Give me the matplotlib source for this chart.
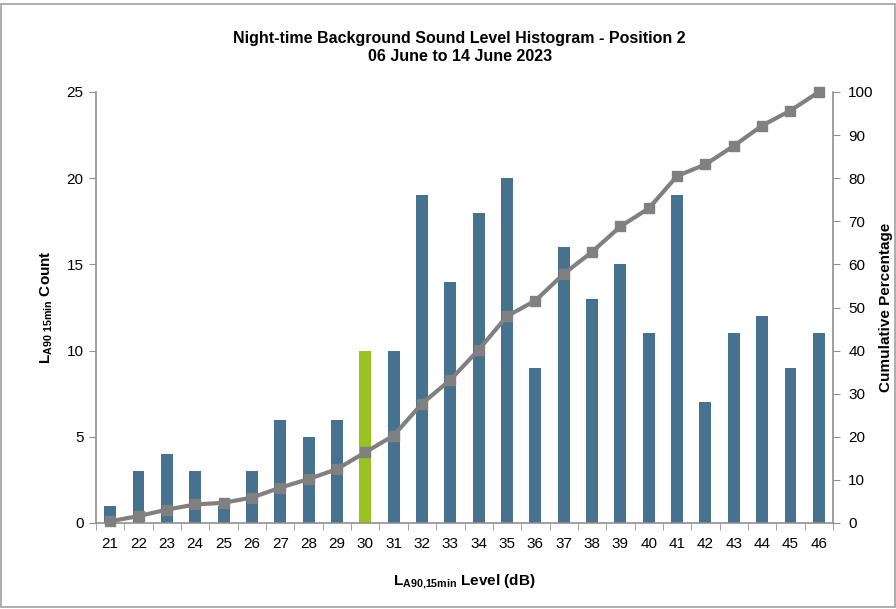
import matplotlib.pyplot as plt
from matplotlib.patches import Rectangle
import numpy as np

# Dane
levels = [21, 22, 23, 24, 25, 26, 27, 28, 29, 30, 31, 32, 33,
          34, 35, 36, 37, 38, 39, 40, 41, 42, 43, 44, 45, 46]
counts = [1, 3, 4, 3, 1, 3, 6, 5, 6, 10, 10, 19, 14,
          18, 20, 9, 16, 13, 15, 11, 19, 7, 11, 12, 9, 11]
cumulative = [0.4, 1.6, 3.1, 4.3, 4.7, 5.9, 8.2, 10.2, 12.5, 16.4, 20.3, 27.7, 33.2,
              40.2, 48.0, 51.6, 57.8, 62.9, 68.8, 73.0, 80.5, 83.2, 87.5, 92.2, 95.7, 100.0]
highlight = 30

plt.rcParams['font.family'] = ['Liberation Sans', 'DejaVu Sans']
plt.rcParams['mathtext.fontset'] = 'custom'
plt.rcParams['mathtext.rm'] = 'Liberation Sans'
plt.rcParams['mathtext.bf'] = 'Liberation Sans:bold'

fig = plt.figure(figsize=(8.96, 6.09), dpi=100)
ax = fig.add_axes([96 / 896, 1 - 523 / 609, (833 - 96) / 896, (523 - 92) / 609])
ax2 = ax.twinx()

x = np.arange(len(levels))
colors = ['#9BC31F' if l == highlight else '#46718F' for l in levels]
ax.bar(x, counts, width=0.42, color=colors, zorder=2)
ax2.plot(x, cumulative, color='#808080', lw=3, marker='s', ms=6.5, zorder=3, clip_on=False)

ax.set_xlim(-0.5, len(levels) - 0.5)
ax.set_ylim(0, 25)
ax.set_yticks(range(0, 26, 5))
ax2.set_ylim(0, 100)
ax2.set_yticks(range(0, 101, 10))

ax.set_xticks(x)
ax.set_xticklabels([str(l) for l in levels])
ax.set_xticks(np.arange(-0.5, len(levels), 1), minor=True)
ax.tick_params(axis='x', which='major', length=0, pad=10, labelsize=11)
ax.tick_params(axis='x', which='minor', length=5, color='#909090', direction='out')
ax.tick_params(axis='y', length=5, color='#909090', labelsize=11, pad=4)
ax2.tick_params(axis='y', length=5, color='#909090', labelsize=11, pad=6)

for a in (ax, ax2):
    a.spines['top'].set_visible(False)
    for s in ('left', 'right', 'bottom'):
        a.spines[s].set_color('#909090')
        a.spines[s].set_linewidth(1.2)
ax.spines['right'].set_visible(False)
ax2.spines['left'].set_visible(False)
ax2.spines['bottom'].set_visible(False)

ax.set_xlabel(r'$\mathbf{L_{A90{,}15min}}$ Level (dB)', fontsize=11, fontweight='bold', labelpad=16)
ax.set_ylabel(r'$\mathbf{L_{A90\ 15min}}$ Count', fontsize=11, fontweight='bold', labelpad=8)
ax2.set_ylabel('Cumulative Percentage', fontsize=11, fontweight='bold', labelpad=4)

fig.text(0.513, 0.922, 'Night-time Background Sound Level Histogram - Position 2\n06 June to 14 June 2023',
         ha='center', va='center', fontsize=11.5, fontweight='bold', linespacing=1.2)

# ramka wokół obrazka
fig.patches.append(Rectangle((0.001, 0.003), 0.998, 0.991, transform=fig.transFigure,
                             fill=False, ec='#A0A0A0', lw=1.2))

fig.savefig('out.png', dpi=100)
